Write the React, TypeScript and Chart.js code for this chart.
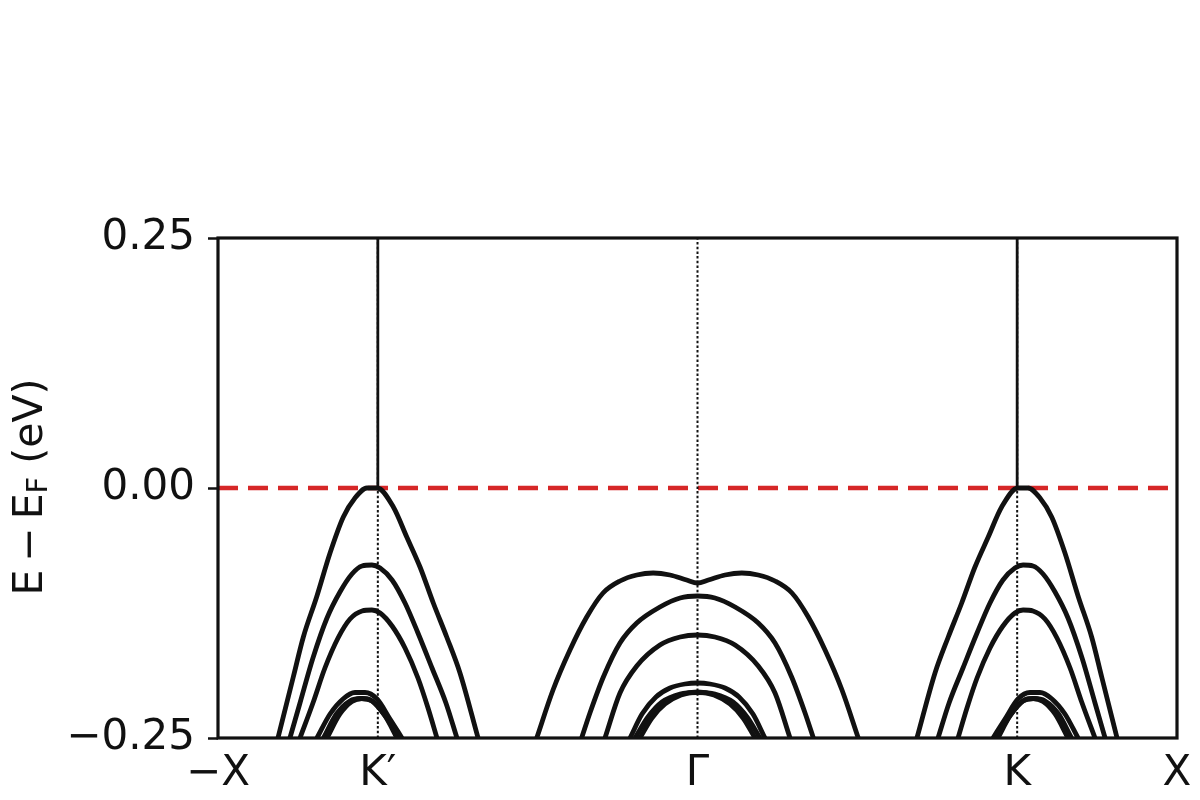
import React, { useEffect, useRef } from 'react';
import { Chart, registerables } from 'chart.js';

Chart.register(...registerables);

// High-symmetry points along the k-path
const kTickPos = [-3, -2, 0, 2, 3];
const kTickLabels = ['−X', 'K′', 'Γ', 'K', 'X'];
const eTicks = [-0.25, 0, 0.25];

// Bands around K'
const kp1X = [-2.625, -2.529, -2.466, -2.383, -2.299, -2.216, -2.143, -2.068, -2.005, -1.903, -1.819, -1.736, -1.653, -1.569, -1.486, -1.373];
const kp1E = [-0.25, -0.189, -0.149, -0.109, -0.065, -0.029, -0.010, 0.0, 0.0, -0.019, -0.049, -0.079, -0.115, -0.149, -0.185, -0.25];
const kp2X = [-2.550, -2.487, -2.406, -2.318, -2.237, -2.162, -2.099, -2.037, -1.986, -1.911, -1.830, -1.749, -1.661, -1.574, -1.505];
const kp2E = [-0.25, -0.215, -0.17, -0.13, -0.104, -0.086, -0.078, -0.077, -0.08, -0.092, -0.115, -0.145, -0.18, -0.215, -0.25];
const kp3X = [-2.487, -2.406, -2.331, -2.249, -2.174, -2.099, -2.037, -1.986, -1.911, -1.830, -1.749, -1.686, -1.630];
const kp3E = [-0.25, -0.215, -0.18, -0.15, -0.131, -0.123, -0.122, -0.125, -0.138, -0.16, -0.19, -0.22, -0.25];
const kp4X = [-2.381, -2.299, -2.218, -2.143, -2.080, -2.005, -1.924, -1.849];
const kp4E = [-0.25, -0.226, -0.211, -0.2045, -0.2045, -0.211, -0.231, -0.25];
const kp5X = [-2.318, -2.237, -2.162, -2.099, -2.037, -1.955, -1.880];
const kp5E = [-0.25, -0.226, -0.2135, -0.2105, -0.213, -0.228, -0.25];
const kp6X = [-2.340, -2.259, -2.175, -2.105, -2.040, -1.962, -1.866];
const kp6E = [-0.25, -0.226, -0.213, -0.2105, -0.2125, -0.226, -0.25];

// Bands around Γ
const gAX = [-1.006, -0.904, -0.798, -0.693, -0.591, -0.485, -0.380, -0.277, -0.172, -0.068, 0, 0.068, 0.172, 0.277, 0.380, 0.485, 0.591, 0.693, 0.798, 0.904, 1.006];
const gAE = [-0.25, -0.202, -0.162, -0.129, -0.105, -0.093, -0.087, -0.085, -0.087, -0.092, -0.095, -0.092, -0.087, -0.085, -0.087, -0.093, -0.105, -0.129, -0.162, -0.202, -0.25];
const gBX = [-0.725, -0.673, -0.589, -0.485, -0.380, -0.235, -0.109, 0, 0.109, 0.235, 0.380, 0.485, 0.589, 0.673, 0.725];
const gBE = [-0.25, -0.225, -0.189, -0.155, -0.135, -0.119, -0.110, -0.108, -0.110, -0.119, -0.135, -0.155, -0.189, -0.225, -0.25];
const gCX = [-0.579, -0.485, -0.380, -0.235, -0.109, 0, 0.109, 0.235, 0.380, 0.485, 0.579];
const gCE = [-0.25, -0.205, -0.178, -0.157, -0.149, -0.147, -0.149, -0.157, -0.178, -0.205, -0.25];
const gD1X = [-0.422, -0.347, -0.260, -0.172, -0.078, 0, 0.078, 0.172, 0.260, 0.347, 0.422];
const gD1E = [-0.25, -0.226, -0.209, -0.2, -0.196, -0.195, -0.196, -0.2, -0.209, -0.226, -0.25];
const gD2X = [-0.360, -0.285, -0.203, -0.103, 0, 0.103, 0.203, 0.285, 0.360];
const gD2E = [-0.25, -0.23, -0.216, -0.207, -0.204, -0.207, -0.216, -0.23, -0.25];
const gD3X = [-0.391, -0.310, -0.222, -0.109, 0, 0.109, 0.222, 0.310, 0.391];
const gD3E = [-0.25, -0.229, -0.214, -0.206, -0.2045, -0.206, -0.214, -0.229, -0.25];

// Bands around K
const kk1X = [1.373, 1.486, 1.569, 1.653, 1.736, 1.819, 1.903, 2.005, 2.068, 2.143, 2.216, 2.299, 2.383, 2.466, 2.529, 2.625];
const kk1E = [-0.25, -0.185, -0.149, -0.115, -0.079, -0.049, -0.019, 0.0, 0.0, -0.010, -0.029, -0.065, -0.109, -0.149, -0.189, -0.25];
const kk2X = [1.505, 1.574, 1.661, 1.749, 1.830, 1.911, 1.986, 2.037, 2.099, 2.162, 2.237, 2.318, 2.406, 2.487, 2.550];
const kk2E = [-0.25, -0.215, -0.18, -0.145, -0.115, -0.092, -0.08, -0.077, -0.078, -0.086, -0.104, -0.13, -0.17, -0.215, -0.25];
const kk3X = [1.630, 1.686, 1.749, 1.830, 1.911, 1.986, 2.037, 2.099, 2.174, 2.249, 2.331, 2.406, 2.487];
const kk3E = [-0.25, -0.22, -0.19, -0.16, -0.138, -0.125, -0.122, -0.123, -0.131, -0.15, -0.18, -0.215, -0.25];
const kk4X = [1.849, 1.924, 2.005, 2.080, 2.143, 2.218, 2.299, 2.381];
const kk4E = [-0.25, -0.231, -0.211, -0.2045, -0.2045, -0.211, -0.226, -0.25];
const kk5X = [1.880, 1.955, 2.037, 2.099, 2.162, 2.237, 2.318];
const kk5E = [-0.25, -0.228, -0.213, -0.2105, -0.2135, -0.226, -0.25];
const kk6X = [1.866, 1.962, 2.040, 2.105, 2.175, 2.259, 2.340];
const kk6E = [-0.25, -0.226, -0.2125, -0.2105, -0.213, -0.226, -0.25];

// Steep band rising out of the valence maxima at K' and K
const steepX = [-2, 2];
const steepE = [0, 0.25];

// Fermi level
const fermiX = [-3, 3];
const fermiE = [0, 0];

// Dotted guide lines at K', Γ, K
const guideX = [-2, 0, 2];
const guideE = [-0.25, 0.25];

const bandList: [number[], number[]][] = [
  [kp1X, kp1E], [kp2X, kp2E], [kp3X, kp3E], [kp4X, kp4E], [kp5X, kp5E], [kp6X, kp6E],
  [gAX, gAE], [gBX, gBE], [gCX, gCE], [gD1X, gD1E], [gD2X, gD2E], [gD3X, gD3E],
  [kk1X, kk1E], [kk2X, kk2E], [kk3X, kk3E], [kk4X, kk4E], [kk5X, kk5E], [kk6X, kk6E],
];

const INK = '#111111';
const FONT = "'DejaVu Sans', sans-serif";

const zip = (xs: number[], ys: number[]) => xs.map((x, i) => ({ x, y: ys[i] }));

const framePlugin = {
  id: 'frame',
  afterDatasetsDraw(chart: any) {
    const { ctx, chartArea } = chart;
    ctx.save();
    ctx.strokeStyle = INK;
    ctx.lineWidth = 3.2;
    ctx.strokeRect(chartArea.left, chartArea.top, chartArea.right - chartArea.left, chartArea.bottom - chartArea.top);
    ctx.restore();
  },
};

const yTitlePlugin = {
  id: 'yTitle',
  afterDraw(chart: any) {
    const ctx = chart.ctx;
    const big = `41px ${FONT}`;
    const small = `29px ${FONT}`;
    const parts = [
      { t: 'E', f: big, dy: 0, gap: 8 },
      { t: '−', f: big, dy: 0, gap: 8 },
      { t: 'E', f: big, dy: 0, gap: 0 },
      { t: 'F', f: small, dy: 5, gap: 0 },
      { t: ' (eV)', f: big, dy: 0, gap: 0 },
    ];
    ctx.save();
    ctx.fillStyle = INK;
    ctx.textBaseline = 'alphabetic';
    ctx.textAlign = 'left';
    let total = 0;
    const widths = parts.map((p) => {
      ctx.font = p.f;
      const w = ctx.measureText(p.t).width;
      total += w + p.gap;
      return w;
    });
    ctx.translate(0, 487);
    ctx.rotate(-Math.PI / 2);
    let x = -total / 2;
    parts.forEach((p, i) => {
      ctx.font = p.f;
      ctx.fillText(p.t, x, 42 + p.dy);
      x += widths[i] + p.gap;
    });
    ctx.restore();
  },
};

export default function App() {
  const ref = useRef<HTMLCanvasElement | null>(null);

  useEffect(() => {
    if (!ref.current) return;
    const datasets: any[] = [];
    bandList.forEach(([xs, ys]) => {
      datasets.push({
        data: zip(xs, ys),
        showLine: true,
        pointRadius: 0,
        borderColor: INK,
        borderWidth: 4.8,
        borderJoinStyle: 'round',
        cubicInterpolationMode: 'monotone',
        fill: false,
        clip: 0,
      });
    });
    steepX.forEach((x) => {
      datasets.push({
        data: steepE.map((y) => ({ x, y })),
        showLine: true,
        pointRadius: 0,
        borderColor: INK,
        borderWidth: 2.8,
        fill: false,
        clip: 0,
      });
    });
    guideX.forEach((x) => {
      datasets.push({
        data: guideE.map((y) => ({ x, y })),
        showLine: true,
        pointRadius: 0,
        borderColor: INK,
        borderWidth: 2,
        borderDash: [2.5, 2.2],
        fill: false,
        clip: 0,
      });
    });
    datasets.push({
      data: zip(fermiX, fermiE),
      showLine: true,
      pointRadius: 0,
      borderColor: '#d62728',
      borderWidth: 4.5,
      borderDash: [20, 10],
      fill: false,
      clip: 0,
    });

    const chart = new Chart(ref.current, {
      type: 'scatter',
      data: { datasets },
      plugins: [framePlugin, yTitlePlugin],
      options: {
        animation: false,
        responsive: false,
        maintainAspectRatio: false,
        layout: { padding: { top: 238, right: 23, left: 0, bottom: 0 } },
        plugins: {
          legend: { display: false },
          tooltip: { enabled: false },
        },
        scales: {
          x: {
            type: 'linear',
            min: -3,
            max: 3,
            afterBuildTicks: (s: any) => {
              s.ticks = kTickPos.map((v) => ({ value: v }));
            },
            afterFit: (s: any) => {
              s.height = 62;
            },
            ticks: {
              autoSkip: false,
              maxRotation: 0,
              padding: 3,
              color: INK,
              font: { family: FONT, size: 42 },
              callback: (v: any) => {
                const i = kTickPos.indexOf(Number(v));
                return i >= 0 ? kTickLabels[i] : '';
              },
            },
            grid: { display: false },
            border: { display: false },
          },
          y: {
            type: 'linear',
            min: -0.25,
            max: 0.25,
            afterBuildTicks: (s: any) => {
              s.ticks = eTicks.map((v) => ({ value: v }));
            },
            afterFit: (s: any) => {
              s.width = 218;
            },
            ticks: {
              padding: 13,
              color: INK,
              font: { family: FONT, size: 42 },
              callback: (v: any) => {
                const n = Number(v);
                if (Math.abs(n) < 1e-9) return '0.00';
                return (n < 0 ? '−' : '') + Math.abs(n).toFixed(2);
              },
            },
            grid: {
              display: true,
              drawOnChartArea: false,
              drawTicks: true,
              tickLength: 10,
              tickWidth: 2.5,
              tickColor: INK,
            },
            border: { display: false },
          },
        },
      } as any,
    });
    return () => chart.destroy();
  }, []);

  return (
    <div style={{ position: 'absolute', left: 0, top: 0, width: 1200, height: 800, background: '#fff' }}>
      <canvas ref={ref} width={1200} height={800} style={{ display: 'block', width: 1200, height: 800 }} />
    </div>
  );
}
